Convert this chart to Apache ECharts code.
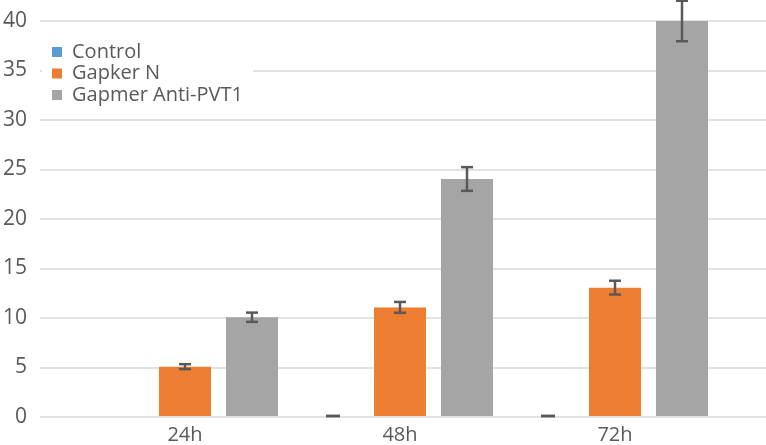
<!DOCTYPE html>
<html>
<head>
<meta charset="utf-8">
<script src="https://cdn.jsdelivr.net/npm/echarts@6/dist/echarts.min.js"></script>
<style>html,body{margin:0;padding:0;background:#fff}#c{width:766px;height:445px}</style>
</head>
<body>
<div id="c"></div>
<script>
const categories = ['24h', '48h', '72h'];
const seriesNames = ['Control', 'Gapker N', 'Gapmer Anti-PVT1'];
const controlValues = [0, 0, 0];
const gapkerValues = [5, 11, 13];
const gapmerValues = [10, 24, 40];
const controlErr = [null, 0, 0];
const gapkerErr = [0.25, 0.55, 0.7];
const gapmerErr = [0.47, 1.2, 2.05];
const yMin = 0, yMax = 40, yStep = 5;

const COLORS = ['#5b9bd5', '#ed7d31', '#a5a5a5'];
const TEXT = '#595959';
const FONT = 'Open Sans';
const BAR_W = 52, BAR_GAP = 15;

function errSeries(name, vals, errs, offset) {
  const data = [];
  vals.forEach((v, i) => { if (errs[i] !== null) data.push([i, v, errs[i]]); });
  return {
    type: 'custom', name: name + ' err', xAxisIndex: 1, yAxisIndex: 1, z: 5, clip: false,
    encode: { x: 0, y: 1 },
    data: data,
    renderItem: function (params, api) {
      const i = api.value(0), v = api.value(1), e = api.value(2);
      const t = api.coord([i, v + e]);
      const b = api.coord([i, v - e]);
      const x = t[0] + offset;
      const hw = e === 0 ? 7 : 6;
      const st = { stroke: '#595959', lineWidth: 2.5 };
      const children = [
        { type: 'line', shape: { x1: x - hw, y1: t[1], x2: x + hw, y2: t[1] }, style: st },
        { type: 'line', shape: { x1: x - hw, y1: b[1], x2: x + hw, y2: b[1] }, style: st }
      ];
      if (e > 0) children.push({ type: 'line', shape: { x1: x, y1: t[1], x2: x, y2: b[1] }, style: st });
      return { type: 'group', children: children };
    }
  };
}

const chart = echarts.init(document.getElementById('c'), null, { renderer: 'canvas' });
chart.setOption({
  animation: false,
  color: COLORS,
  textStyle: { fontFamily: FONT, color: TEXT },
  grid: [
    { left: 38, right: 0, top: 21, bottom: 28 },
    { left: 77.5, right: 43.5, top: 21, bottom: 28 }
  ],
  legend: {
    data: seriesNames,
    orient: 'vertical', left: 42, top: 32,
    padding: [10, 10, 10, 10],
    itemWidth: 10, itemHeight: 10, itemGap: 1.5,
    icon: 'rect',
    backgroundColor: '#fff',
    z: 10,
    textStyle: { fontFamily: FONT, fontSize: 20, color: TEXT, lineHeight: 20, padding: [0, 0, 0, 5] }
  },
  xAxis: [
    { type: 'category', gridIndex: 0, data: categories, show: false },
    {
      type: 'category', gridIndex: 1, data: categories,
      axisLine: { show: false }, axisTick: { show: false },
      axisLabel: { fontFamily: FONT, fontSize: 20, color: TEXT, margin: 9 }
    }
  ],
  yAxis: [
    {
      type: 'value', gridIndex: 0, min: yMin, max: yMax, interval: yStep,
      axisLine: { show: false }, axisTick: { show: false },
      axisLabel: { fontFamily: FONT, fontSize: 21, color: TEXT, margin: 13 },
      splitLine: { lineStyle: { color: '#d9d9d9', width: 1.5 } }
    },
    { type: 'value', gridIndex: 1, min: yMin, max: yMax, interval: yStep, show: false, splitLine: { show: false } }
  ],
  series: [
    { type: 'bar', name: seriesNames[0], xAxisIndex: 1, yAxisIndex: 1, data: controlValues, barWidth: BAR_W, barGap: (BAR_GAP / BAR_W * 100) + '%' },
    { type: 'bar', name: seriesNames[1], xAxisIndex: 1, yAxisIndex: 1, data: gapkerValues, barWidth: BAR_W, barGap: (BAR_GAP / BAR_W * 100) + '%' },
    { type: 'bar', name: seriesNames[2], xAxisIndex: 1, yAxisIndex: 1, data: gapmerValues, barWidth: BAR_W, barGap: (BAR_GAP / BAR_W * 100) + '%' },
    errSeries(seriesNames[0], controlValues, controlErr, -(BAR_W + BAR_GAP)),
    errSeries(seriesNames[1], gapkerValues, gapkerErr, 0),
    errSeries(seriesNames[2], gapmerValues, gapmerErr, BAR_W + BAR_GAP)
  ]
});
</script>
</body>
</html>
